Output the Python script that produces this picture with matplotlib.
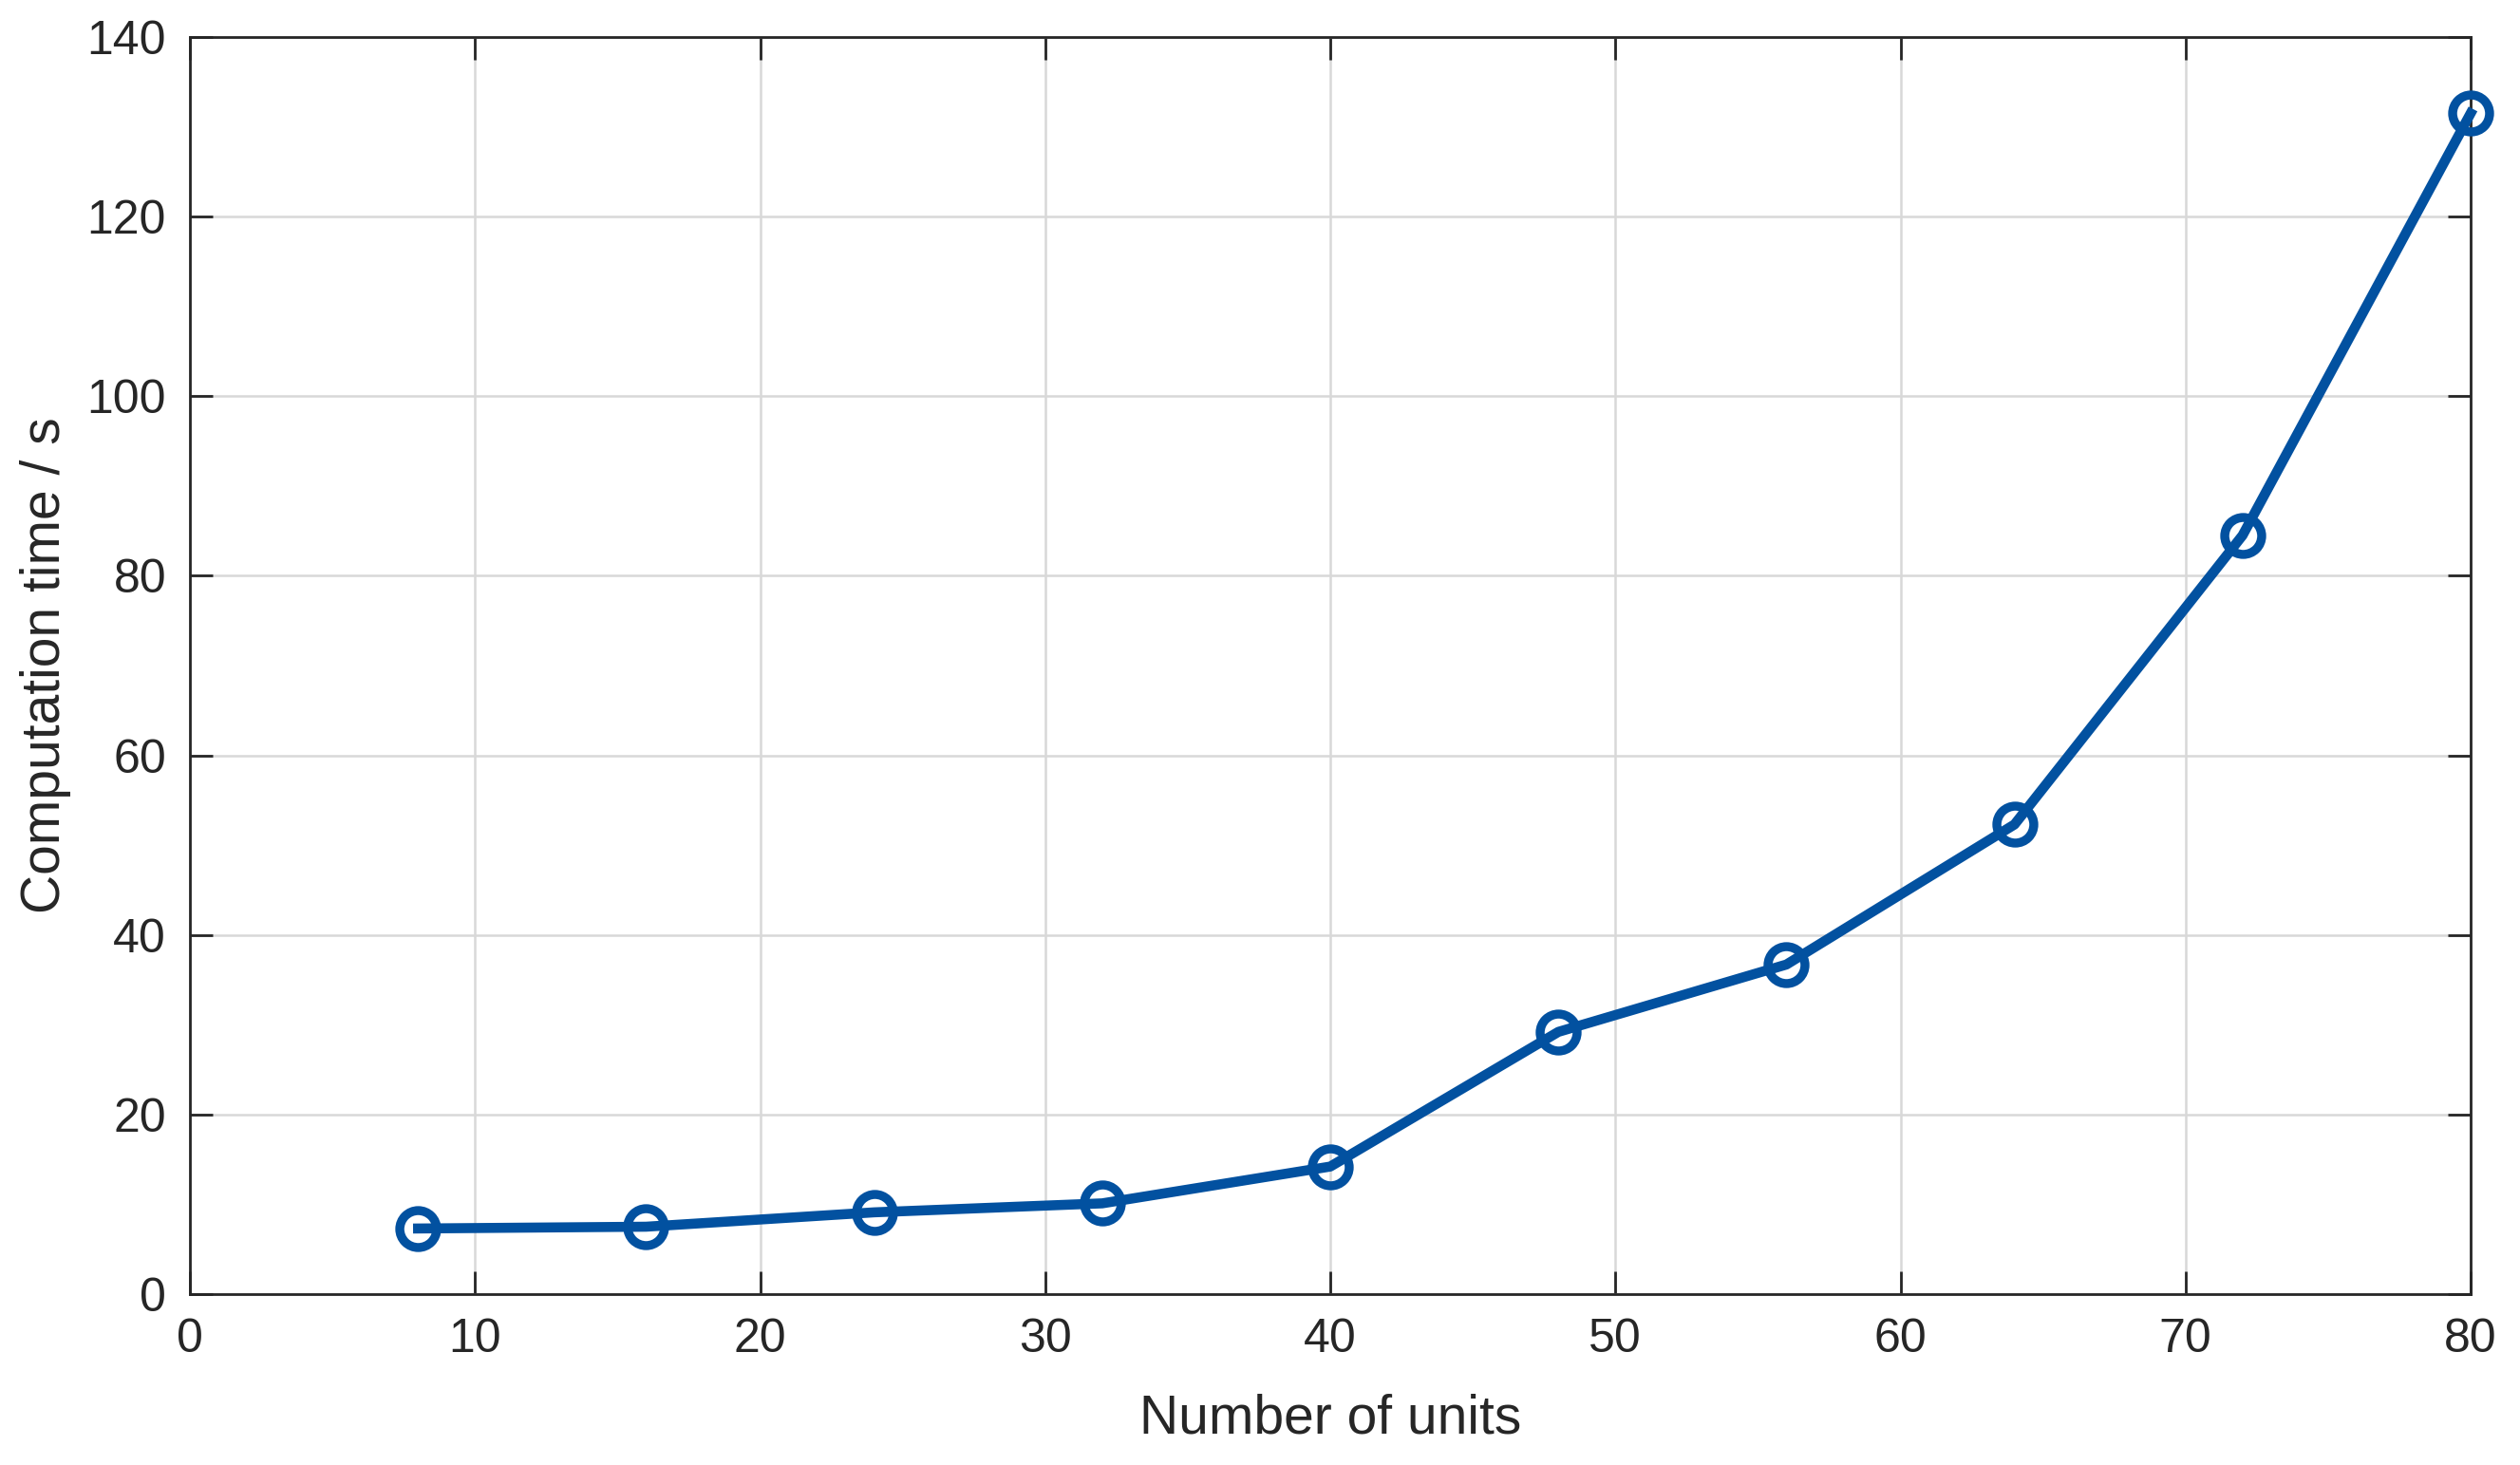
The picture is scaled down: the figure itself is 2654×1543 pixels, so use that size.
import matplotlib
matplotlib.use("Agg")
import matplotlib.pyplot as plt

units = [8, 16, 24, 32, 40, 48, 56, 64, 72, 80]
comp_time = [7.3, 7.5, 9.1, 10.1, 14.2, 29.2, 36.7, 52.3, 84.5, 131.5]
xticks = [0, 10, 20, 30, 40, 50, 60, 70, 80]
yticks = [0, 20, 40, 60, 80, 100, 120, 140]

plt.rcParams['font.family'] = ['Liberation Sans', 'DejaVu Sans']
dark = '#262626'
blue = '#0251A0'

fig = plt.figure(figsize=(13.27, 7.715), dpi=200)
ax = fig.add_axes([0.0754, 0.1167, 0.9804 - 0.0754, 0.9747 - 0.1167])

ax.plot(units, comp_time, color=blue, lw=3.8, marker='o', ms=14,
        mfc='none', mec=blue, mew=3.4, zorder=3, clip_on=False)

ax.set_xlim(0, 80)
ax.set_ylim(0, 140)
ax.set_xticks(xticks)
ax.set_yticks(yticks)
ax.grid(True, color='#d8d8d8', lw=0.9)
ax.set_axisbelow(True)
ax.tick_params(direction='in', length=8.5, width=1.0, colors=dark,
               labelsize=18, top=True, right=True, pad=9)
for s in ax.spines.values():
    s.set_color(dark)
    s.set_linewidth(1.0)

ax.set_xlabel('Number of units', fontsize=20.5, color=dark, labelpad=12)
ax.set_ylabel('Computation time / s', fontsize=20.5, color=dark, labelpad=6)

fig.savefig('out.png', dpi=200)
